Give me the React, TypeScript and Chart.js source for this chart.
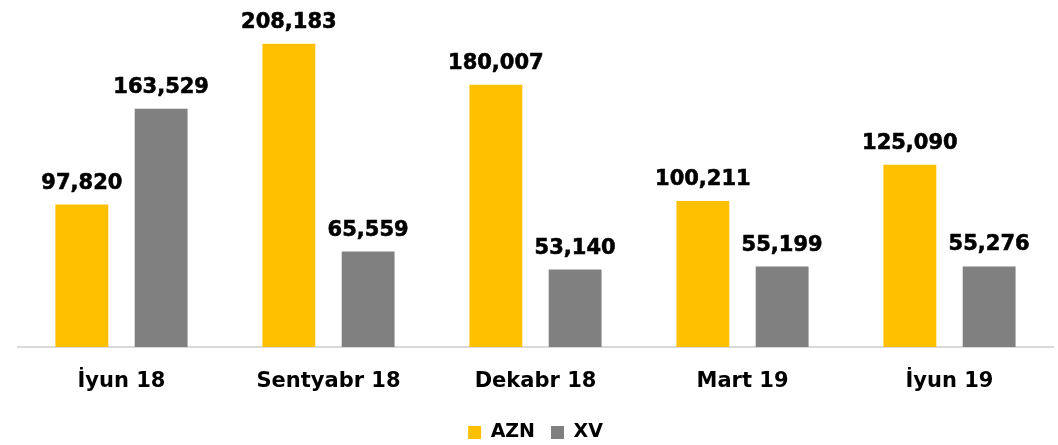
import React, { useEffect, useRef } from "react";
import { Chart, registerables } from "chart.js";

Chart.register(...registerables);

const categories = ["İyun 18", "Sentyabr 18", "Dekabr 18", "Mart 19", "İyun 19"];
const aznValues = [97820, 208183, 180007, 100211, 125090];
const xvValues = [163529, 65559, 53140, 55199, 55276];
const seriesNames = ["AZN", "XV"];

const FONT = "'DejaVu Sans', Verdana, sans-serif";

const valueLabels = {
  id: "valueLabels",
  afterDatasetsDraw(chart: any) {
    const ctx = chart.ctx;
    ctx.save();
    ctx.font = `bold 21px ${FONT}`;
    ctx.fillStyle = "#000000";
    ctx.strokeStyle = "#000000";
    ctx.lineWidth = 0.6;
    ctx.textAlign = "center";
    ctx.textBaseline = "alphabetic";
    chart.data.datasets.forEach((ds: any, di: number) => {
      const meta = chart.getDatasetMeta(di);
      meta.data.forEach((bar: any, i: number) => {
        const v = ds.data[i] as number;
        const t = v.toLocaleString("en-US");
        ctx.fillText(t, bar.x, bar.y - 16);
        ctx.strokeText(t, bar.x, bar.y - 16);
      });
    });
    ctx.restore();
  },
};

export default function App() {
  const ref = useRef<HTMLCanvasElement>(null);
  useEffect(() => {
    document.body.style.margin = "0";
    const chart = new Chart(ref.current!, {
      type: "bar",
      data: {
        labels: categories,
        datasets: [
          { label: seriesNames[0], data: aznValues, backgroundColor: "#FFC000" },
          { label: seriesNames[1], data: xvValues, backgroundColor: "#808080" },
        ],
      },
      options: {
        animation: false,
        responsive: false,
        layout: { padding: { top: 12, left: 18, right: 5, bottom: -7 } },
        datasets: {
          bar: { categoryPercentage: 0.766, barPercentage: 0.667 },
        },
        scales: {
          x: {
            grid: { display: false, drawTicks: false },
            border: { display: true, color: "#D9D9D9", width: 2 },
            ticks: {
              color: "#000000",
              font: { family: FONT, size: 21, weight: "bold" },
              padding: 22,
            },
            afterFit: (scale: any) => {
              scale.height = 60;
            },
          },
          y: {
            display: false,
            min: 0,
            max: 230000,
          },
        },
        plugins: {
          tooltip: { enabled: false },
          legend: {
            position: "bottom",
            labels: {
              boxWidth: 13,
              boxHeight: 13,
              padding: 16,
              color: "#000000",
              font: { family: FONT, size: 19, weight: "bold" },
            },
          },
        },
      },
      plugins: [valueLabels],
    });
    return () => chart.destroy();
  }, []);
  return (
    <div style={{ position: "absolute", left: 0, top: 0, width: 1058, height: 445 }}>
      <canvas ref={ref} width={1058} height={445} style={{ width: 1058, height: 445 }} />
    </div>
  );
}
